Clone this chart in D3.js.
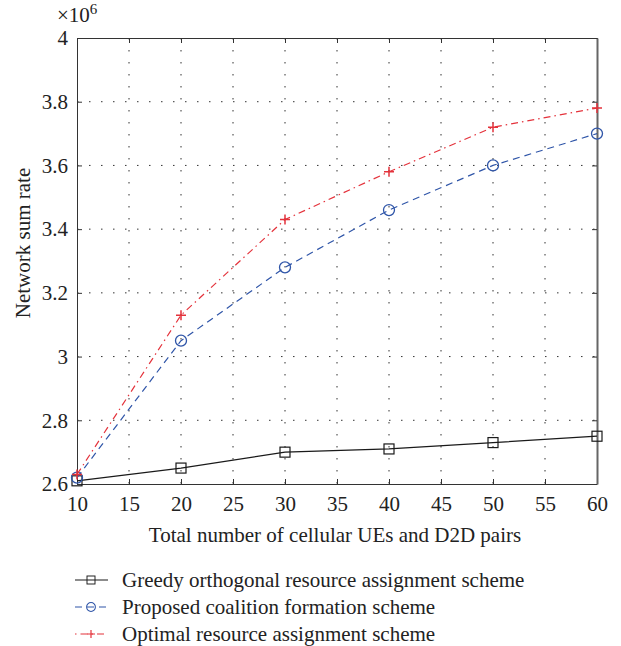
<!DOCTYPE html>
<html>
<head>
<meta charset="utf-8">
<title>Network sum rate</title>
<script src="https://d3js.org/d3.v7.min.js"></script>
<style>
  body { margin: 0; background: #fff; }
  svg text { font-family: "Liberation Serif", "DejaVu Serif", serif; fill: #222; }
</style>
</head>
<body>
<script>
// data (values in units of 10^6)
var users = [10, 20, 30, 40, 50, 60];
var greedy = [2.61, 2.65, 2.70, 2.71, 2.73, 2.75];
var proposed = [2.62, 3.05, 3.28, 3.46, 3.60, 3.70];
var optimal = [2.63, 3.13, 3.43, 3.58, 3.72, 3.78];
var seriesNames = ["Greedy orthogonal resource assignment scheme",
                   "Proposed coalition formation scheme",
                   "Optimal resource assignment scheme"];
var xTicks = [10, 15, 20, 25, 30, 35, 40, 45, 50, 55, 60];
var yTicks = [2.6, 2.8, 3, 3.2, 3.4, 3.6, 3.8, 4];

var W = 621, H = 646;
var margin = {left: 77, top: 38, right: 24, bottom: 162};
var width = W - margin.left - margin.right,
    height = H - margin.top - margin.bottom;
var fs = 21;

var x = d3.scaleLinear().domain([10, 60]).range([0, width]);
var y = d3.scaleLinear().domain([2.6, 4]).range([height, 0]);

var svg = d3.select("body").append("svg")
    .attr("width", W).attr("height", H);
var g = svg.append("g")
    .attr("transform", "translate(" + margin.left + "," + margin.top + ")");

// dotted grid
g.append("g").selectAll("line.vx")
  .data(xTicks.slice(1, -1)).enter().append("line")
  .attr("x1", function(d) { return x(d); }).attr("x2", function(d) { return x(d); })
  .attr("y1", 0).attr("y2", height)
  .attr("stroke", "#333").attr("stroke-width", 1).attr("stroke-dasharray", "1.5,10.5");
g.append("g").selectAll("line.hy")
  .data(yTicks.slice(1, -1)).enter().append("line")
  .attr("y1", function(d) { return y(d); }).attr("y2", function(d) { return y(d); })
  .attr("x1", 0).attr("x2", width)
  .attr("stroke", "#333").attr("stroke-width", 1).attr("stroke-dasharray", "1.5,10.5");

// axes with inward ticks
var fmt = function(d) { return d3.format("")(d); };
g.append("g").attr("transform", "translate(0," + height + ")")
  .call(d3.axisBottom(x).tickValues(xTicks).tickSizeInner(-5).tickSizeOuter(0).tickPadding(12))
  .call(function(a) {
    a.attr("font-size", fs);
    a.select(".domain").attr("stroke", "#333");
    a.selectAll("line").attr("stroke", "#333");
    a.selectAll("text").attr("fill", "#222");
  });
g.append("g")
  .call(d3.axisLeft(y).tickValues(yTicks).tickFormat(fmt).tickSizeInner(-5).tickSizeOuter(0).tickPadding(9))
  .call(function(a) {
    a.attr("font-size", fs);
    a.select(".domain").attr("stroke", "#333");
    a.selectAll("line").attr("stroke", "#333");
    a.selectAll("text").attr("fill", "#222");
  });
g.append("g")
  .call(d3.axisTop(x).tickValues(xTicks).tickFormat("").tickSizeInner(-5).tickSizeOuter(0))
  .call(function(a) { a.selectAll("path,line").attr("stroke", "#333"); });
g.append("g").attr("transform", "translate(" + width + ",0)")
  .call(d3.axisRight(y).tickValues(yTicks).tickFormat("").tickSizeInner(-5).tickSizeOuter(0))
  .call(function(a) {
    a.select(".domain").attr("stroke", "#666").attr("stroke-width", 2);
    a.selectAll("line").attr("stroke", "#333");
  });

// exponent label
var ex = svg.append("text").attr("x", 57).attr("y", 22).attr("font-size", fs);
ex.append("tspan").text("\u00d710");
ex.append("tspan").attr("dy", -8).attr("font-size", 15).text("6");

// axis titles
svg.append("text").attr("text-anchor", "middle")
  .attr("x", margin.left + width / 2 - 2).attr("y", 542).attr("font-size", fs)
  .text("Total number of cellular UEs and D2D pairs");
svg.append("text").attr("text-anchor", "middle")
  .attr("transform", "translate(30," + (margin.top + height / 2 - 18) + ") rotate(-90)")
  .attr("font-size", fs).text("Network sum rate");

var styles = [
  {vals: greedy, color: "#1a1a1a", dash: null, marker: "square"},
  {vals: proposed, color: "#2f55a8", dash: "7,5", marker: "circle"},
  {vals: optimal, color: "#e4323b", dash: "7,4,1.5,4", marker: "plus"}
];

function drawMarker(sel, type, color) {
  if (type === "square") {
    sel.append("rect").attr("x", -5).attr("y", -5).attr("width", 10).attr("height", 10)
      .attr("fill", "none").attr("stroke", color).attr("stroke-width", 1.2);
  } else if (type === "circle") {
    sel.append("circle").attr("r", 5.5).attr("fill", "none")
      .attr("stroke", color).attr("stroke-width", 1.3);
  } else {
    sel.append("path").attr("d", "M-5,0H5M0,-5V5")
      .attr("stroke", color).attr("stroke-width", 1.5);
  }
}

var line = d3.line()
  .x(function(d, i) { return x(users[i]); })
  .y(function(d) { return y(d); });

styles.forEach(function(s) {
  g.append("path").datum(s.vals).attr("d", line)
    .attr("fill", "none").attr("stroke", s.color).attr("stroke-width", 1.2)
    .attr("stroke-dasharray", s.dash);
  s.vals.forEach(function(v, i) {
    var m = g.append("g").attr("transform", "translate(" + x(users[i]) + "," + y(v) + ")");
    drawMarker(m, s.marker, s.color);
  });
});

// legend (line runs through the marker, as in the original)
var leg = svg.append("g").attr("transform", "translate(75,580)");
styles.forEach(function(s, i) {
  var row = leg.append("g").attr("transform", "translate(0," + (i * 27) + ")");
  row.append("line").attr("x1", 0).attr("x2", 33).attr("y1", 0).attr("y2", 0)
    .attr("stroke", s.color).attr("stroke-width", 1.2)
    .attr("stroke-dasharray", s.dash ? (i === 1 ? "7,5" : "1.5,4,7,4") : null);
  var m = row.append("g").attr("transform", "translate(16,0) scale(0.8)");
  drawMarker(m, s.marker, s.color);
  row.append("text").attr("x", 47).attr("y", 7).attr("font-size", fs).text(seriesNames[i]);
});
</script>
</body>
</html>
